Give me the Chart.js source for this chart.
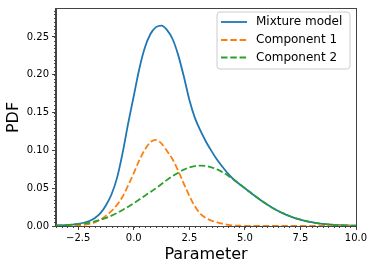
<!DOCTYPE html>
<html>
<head>
<meta charset="utf-8">
<script src="https://cdn.jsdelivr.net/npm/chart.js@4/dist/chart.umd.min.js"></script>
<style>
  html, body { margin: 0; padding: 0; background: #fff; }
  #wrap { width: 374px; height: 269px; }
</style>
</head>
<body>
<div id="wrap"><canvas id="pdfChart" width="374" height="269"></canvas></div>
<script>
// x grid the curves were read at
const xs = [-3.5, -3.25, -3.0, -2.75, -2.5, -2.25, -2.0, -1.75, -1.5, -1.25, -1.0, -0.75, -0.5, -0.25,
  0.0, 0.25, 0.5, 0.75, 1.0, 1.25, 1.5, 1.75, 2.0, 2.25, 2.5, 2.75, 3.0, 3.25, 3.5, 3.75,
  4.0, 4.25, 4.5, 4.75, 5.0, 5.25, 5.5, 5.75, 6.0, 6.25, 6.5, 6.75, 7.0, 7.25, 7.5, 7.75,
  8.0, 8.25, 8.5, 8.75, 9.0, 9.25, 9.5, 9.75, 10.0];

const mixture = [0.0006, 0.0009, 0.0013, 0.0019, 0.0028, 0.0043, 0.0066, 0.0105, 0.017, 0.0275, 0.042, 0.064, 0.097, 0.136,
  0.172, 0.208, 0.236, 0.254, 0.263, 0.265, 0.259, 0.247, 0.226, 0.198, 0.167, 0.143, 0.126, 0.1115, 0.099, 0.0875,
  0.078, 0.069, 0.0615, 0.0556, 0.0499, 0.0442, 0.0386, 0.0333, 0.0284, 0.0239, 0.0199, 0.0163, 0.0132, 0.0105, 0.0083, 0.0065,
  0.005, 0.0038, 0.0028, 0.0021, 0.0015, 0.0011, 0.0008, 0.0006, 0.0004];

const component1 = [0, 0.0001, 0.0002, 0.0004, 0.0008, 0.0015, 0.0028, 0.0048, 0.0085, 0.0135, 0.020, 0.028, 0.039, 0.054,
  0.070, 0.087, 0.101, 0.111, 0.114, 0.109, 0.099, 0.088, 0.073, 0.056, 0.040, 0.026, 0.016, 0.0105, 0.007, 0.0048,
  0.003, 0.0015, 0.0007, 0.0003, 0.0001, 0, 0, 0, 0, 0, 0, 0, 0, 0, 0, 0,
  0, 0, 0, 0, 0, 0, 0, 0, 0];

const component2 = [0.0006, 0.0009, 0.0013, 0.0018, 0.0025, 0.0034, 0.0046, 0.0062, 0.0082, 0.0107, 0.0137, 0.0172, 0.0212, 0.0256,
  0.0302, 0.035, 0.040, 0.045, 0.050, 0.0555, 0.061, 0.066, 0.0705, 0.0745, 0.0775, 0.0793, 0.0798, 0.0793, 0.0776, 0.0748,
  0.0711, 0.0665, 0.0612, 0.0556, 0.0499, 0.0442, 0.0386, 0.0333, 0.0284, 0.0239, 0.0199, 0.0163, 0.0132, 0.0105, 0.0083, 0.0065,
  0.005, 0.0038, 0.0028, 0.0021, 0.0015, 0.0011, 0.0008, 0.0006, 0.0004];

const seriesNames = ['Mixture model', 'Component 1', 'Component 2'];
const xTicks = [-2.5, 0, 2.5, 5, 7.5, 10];
const yTicks = [0, 0.05, 0.10, 0.15, 0.20, 0.25];

const FONT = "'DejaVu Sans', sans-serif";
const AXIS = '#444';
const colors = ['#1f77b4', '#ff7f0e', '#2ca02c'];
const dashes = [[], [6.5, 2.8], [6.5, 2.8]];

function pts(ys) {
    return xs.map((x, i) => ({ x: x, y: ys[i] }));
}

// spines on top/right, minor ticks and the in-plot legend
const decorPlugin = {
    id: 'decor',
    afterDraw(chart) {
        const ctx = chart.ctx;
        const a = chart.chartArea;
        const xs_ = chart.scales.x, ys_ = chart.scales.y;
        ctx.save();
        ctx.strokeStyle = AXIS;
        ctx.lineWidth = 1;
        ctx.strokeRect(a.left - 0.5, a.top - 0.5, a.right - a.left + 1, a.bottom - a.top + 1);

        // minor ticks
        ctx.beginPath();
        for (let v = -3.5; v <= 10.001; v += 0.25) {
            const px = Math.round(xs_.getPixelForValue(v)) + 0.5;
            ctx.moveTo(px, a.bottom);
            ctx.lineTo(px, a.bottom + 2);
        }
        for (let v = 0; v <= ys_.max + 1e-6; v += 0.005) {
            const py = Math.round(ys_.getPixelForValue(v)) + 0.5;
            ctx.moveTo(a.left, py);
            ctx.lineTo(a.left - 2, py);
        }
        ctx.stroke();

        // legend box
        const bx = 217, by = 12, bw = 133, bh = 57, r = 3;
        ctx.beginPath();
        ctx.moveTo(bx + r, by);
        ctx.arcTo(bx + bw, by, bx + bw, by + bh, r);
        ctx.arcTo(bx + bw, by + bh, bx, by + bh, r);
        ctx.arcTo(bx, by + bh, bx, by, r);
        ctx.arcTo(bx, by, bx + bw, by, r);
        ctx.closePath();
        ctx.fillStyle = 'rgba(255,255,255,0.8)';
        ctx.fill();
        ctx.strokeStyle = '#cccccc';
        ctx.stroke();

        const rows = [22, 40, 57.5];
        ctx.font = '12px ' + FONT;
        ctx.textBaseline = 'middle';
        ctx.textAlign = 'left';
        seriesNames.forEach((name, i) => {
            ctx.beginPath();
            ctx.setLineDash(dashes[i]);
            ctx.strokeStyle = colors[i];
            ctx.lineWidth = 1.8;
            ctx.moveTo(221, rows[i]);
            ctx.lineTo(247, rows[i]);
            ctx.stroke();
            ctx.setLineDash([]);
            ctx.fillStyle = '#000';
            ctx.fillText(name, 256, rows[i]);
        });
        ctx.restore();
    }
};

const ctx = document.getElementById('pdfChart').getContext('2d');
new Chart(ctx, {
    type: 'line',
    data: {
        datasets: [
            { label: seriesNames[0], data: pts(mixture), borderColor: colors[0], borderWidth: 1.8, order: 2 },
            { label: seriesNames[1], data: pts(component1), borderColor: colors[1], borderWidth: 1.8, borderDash: dashes[1], order: 1 },
            { label: seriesNames[2], data: pts(component2), borderColor: colors[2], borderWidth: 1.8, borderDash: dashes[2], order: 0 }
        ]
    },
    options: {
        responsive: false,
        animation: false,
        devicePixelRatio: 1,
        layout: { padding: { left: 0, right: 18, top: 6, bottom: 0 } },
        elements: {
            point: { radius: 0 },
            line: { cubicInterpolationMode: 'monotone', fill: false }
        },
        plugins: {
            legend: { display: false },
            tooltip: { enabled: false }
        },
        scales: {
            x: {
                type: 'linear',
                min: -3.5,
                max: 10,
                afterBuildTicks: (s) => { s.ticks = xTicks.map(v => ({ value: v })); },
                afterFit: (s) => { s.height = 43; },
                ticks: {
                    autoSkip: false,
                    maxRotation: 0,
                    padding: 2,
                    color: '#000',
                    font: { family: FONT, size: 10 },
                    callback: (v) => v.toFixed(1).replace('-', '\u2212')
                },
                grid: { drawOnChartArea: false, drawTicks: true, tickLength: 4, color: AXIS },
                border: { display: true, color: AXIS },
                title: { display: true, text: 'Parameter', color: '#000', font: { family: FONT, size: 16 }, padding: { top: 0, bottom: 5 } }
            },
            y: {
                type: 'linear',
                min: 0,
                max: 0.287,
                afterBuildTicks: (s) => { s.ticks = yTicks.map(v => ({ value: v })); },
                afterFit: (s) => { s.width = 56; },
                ticks: {
                    autoSkip: false,
                    padding: 3,
                    color: '#000',
                    font: { family: FONT, size: 10 },
                    callback: (v) => v.toFixed(2)
                },
                grid: { drawOnChartArea: false, drawTicks: true, tickLength: 4, color: AXIS },
                border: { display: true, color: AXIS },
                title: { display: true, text: 'PDF', color: '#000', font: { family: FONT, size: 16 }, padding: { top: 4, bottom: 0 } }
            }
        }
    },
    plugins: [decorPlugin]
});
</script>
</body>
</html>
